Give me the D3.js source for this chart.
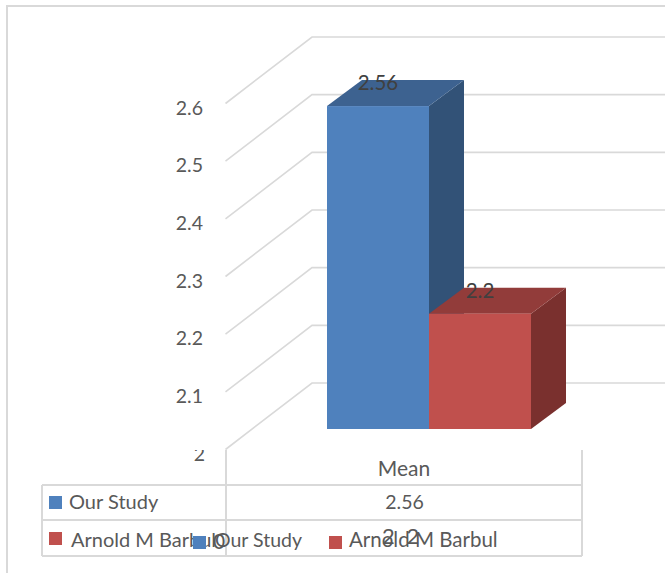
<!DOCTYPE html>
<html>
<head>
<meta charset="utf-8">
<script src="https://cdn.jsdelivr.net/npm/d3@7/dist/d3.min.js"></script>
<style>
html,body{margin:0;padding:0;background:#fff}
svg{display:block}
text{font-family:Lato,"Open Sans",sans-serif;fill:#595959}
</style>
</head>
<body>
<svg id="chart" width="665" height="573"></svg>
<script>
// Chart values
const seriesNames = ["Our Study", "Arnold M Barbul"];
const seriesValues = [2.56, 2.2];
const seriesLabels = ["2.56", "2.2"];
const categories = ["Mean"];
const tableValues = ["2.56"];
const tableSplitDigits = ["2", "2"];
const tickValues = [2, 2.1, 2.2, 2.3, 2.4, 2.5, 2.6];
const frontColors = ["#4f81bd", "#c0504d"];
const topColors = ["#3d6290", "#923c3a"];
const sideColors = ["#325277", "#7a302e"];

const svg = d3.select("#chart");
const gridColor = "#d9d9d9";

// Oblique projection: the value scale is the front edge of the floor,
// and depth shifts a point right and up.
const y = d3.scaleLinear().domain([2, 2.6]).range([449, 103]);
const wallDx = 86, wallDy = 66;
const barDepthDx = 35, barDepthDy = 26;
const barOffsetDy = 20;
const barX = d3.scaleBand().domain(seriesNames).range([327, 531]);

// Outer frame
svg.append("path").attr("d", "M7,573V6H665").attr("fill", "none")
  .attr("stroke", gridColor).attr("stroke-width", 2);

// Gridlines along the side wall and the back wall
const grid = svg.append("g").attr("fill", "none").attr("stroke", gridColor).attr("stroke-width", 1.6);
tickValues.forEach(t => {
  const yy = y(t);
  grid.append("path").attr("d", `M225.5,${yy + 0.5}L${226 + wallDx},${yy - wallDy}H665`);
});

// Value axis labels
svg.append("g").selectAll("text").data(tickValues.slice(1)).join("text")
  .attr("x", 203).attr("y", d => y(d) + 11.5).attr("text-anchor", "end")
  .attr("font-size", 19.5).text(d => d);

// The lowest tick label is cut by the plot area's edge
svg.append("clipPath").attr("id", "baseClip").append("rect")
  .attr("x", 180).attr("y", 450).attr("width", 40).attr("height", 20);
svg.append("text").attr("clip-path", "url(#baseClip)")
  .attr("x", 205).attr("y", y(2) + 12).attr("text-anchor", "end")
  .attr("font-size", 19.5).text(tickValues[0]);

// Bars: side and top faces first, then the front
const bars = svg.append("g");
seriesNames.forEach((name, i) => {
  const x0 = barX(name), x1 = x0 + barX.bandwidth();
  const yb = y(2) - barOffsetDy;
  const yt = y(seriesValues[i]) - barOffsetDy;
  bars.append("path").attr("fill", sideColors[i])
    .attr("d", `M${x1},${yt}L${x1 + barDepthDx},${yt - barDepthDy}V${yb - barDepthDy}L${x1},${yb}Z`);
  bars.append("path").attr("fill", topColors[i])
    .attr("d", `M${x0},${yt}L${x0 + barDepthDx},${yt - barDepthDy}H${x1 + barDepthDx}L${x1},${yt}Z`);
  bars.append("rect").attr("fill", frontColors[i])
    .attr("x", x0).attr("y", yt).attr("width", x1 - x0).attr("height", yb - yt);
});

// Value labels over the bar tops
svg.append("g").selectAll("text").data(seriesLabels).join("text")
  .attr("x", (d, i) => barX(seriesNames[i]) + barX.bandwidth() / 2)
  .attr("y", (d, i) => y(seriesValues[i]) - barOffsetDy - 16)
  .attr("text-anchor", "middle").attr("font-size", 20.5)
  .style("fill", "#404040").text(d => d);

// Data table
const table = svg.append("g").attr("fill", "none").attr("stroke", gridColor).attr("stroke-width", 2);
table.append("path").attr("d", "M226,450V556M582,450V556");
table.append("path").attr("d", "M42,485H582M42,520H582M42,556H582M42,485V556");

svg.append("text").attr("x", 404).attr("y", 476).attr("text-anchor", "middle")
  .attr("font-size", 21).text(categories[0]);
svg.append("text").attr("x", 404.5).attr("y", 509).attr("text-anchor", "middle")
  .attr("font-size", 19.5).text(tableValues[0]);

const swatchY = [496, 532], rowLabelX = [69, 71], rowBaseline = [509, 547];
seriesNames.forEach((n, i) => {
  svg.append("rect").attr("x", 49).attr("y", swatchY[i]).attr("width", 13).attr("height", 13).attr("fill", frontColors[i]);
  svg.append("text").attr("x", rowLabelX[i]).attr("y", rowBaseline[i]).attr("font-size", 20).text(n);
});

// Legend, sitting across the table's last row
const legendSwatchX = [193, 329], legendTextX = [215, 349], legendSize = [19.5, 20.5];
seriesNames.forEach((n, i) => {
  svg.append("rect").attr("x", legendSwatchX[i]).attr("y", 536).attr("width", 13).attr("height", 13).attr("fill", frontColors[i]);
  svg.append("text").attr("x", legendTextX[i]).attr("y", 547).attr("font-size", legendSize[i]).text(n);
});

// Digits of the last table row, drawn over the legend
svg.append("g").selectAll("text").data(tableSplitDigits).join("text")
  .attr("x", (d, i) => 388.5 + i * 24.5).attr("y", 544).attr("text-anchor", "middle")
  .attr("font-size", 22).text(d => d);
svg.append("text").attr("x", 219).attr("y", 549).attr("text-anchor", "middle")
  .attr("font-size", 21).text("0");
</script>
</body>
</html>
